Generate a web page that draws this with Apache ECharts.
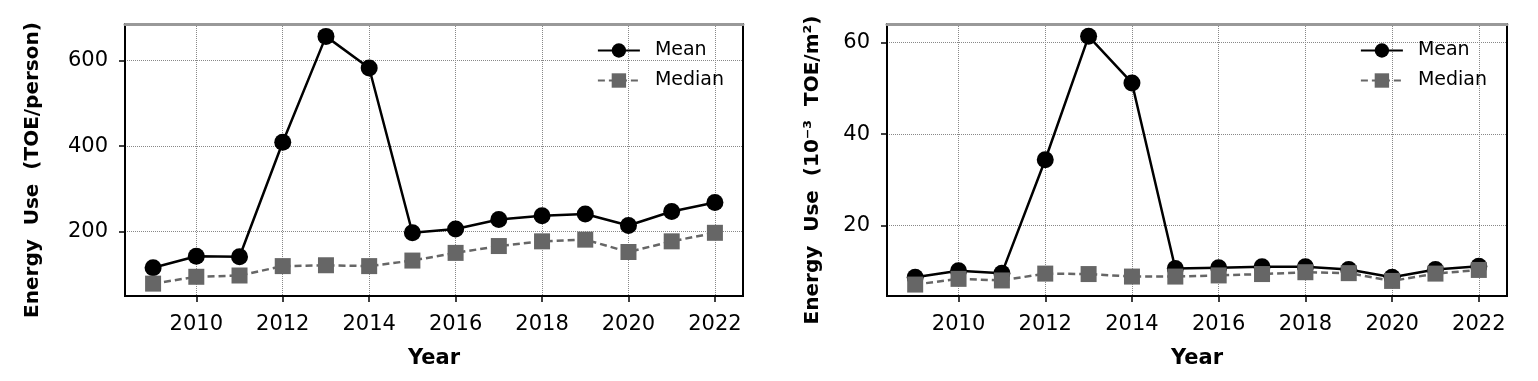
<!DOCTYPE html>
<html>
<head>
<meta charset="utf-8">
<script src="https://cdn.jsdelivr.net/npm/echarts@6/dist/echarts.min.js"></script>
<style>html,body{margin:0;padding:0;background:#fff;}#c{width:1538px;height:381px;}</style>
</head>
<body>
<div id="c"></div>
<script>
const years = [2009,2010,2011,2012,2013,2014,2015,2016,2017,2018,2019,2020,2021,2022];
const meanPerson   = [115,142,141,409,657,583,197,206,228,237,241,214,247,268];
const medianPerson = [78,94,97,119,121,119,132,150,166,177,181,152,177,197];
const meanArea     = [8.7,10.1,9.6,34.4,61.4,51.2,10.6,10.8,11.0,11.0,10.4,8.7,10.4,11.1];
const medianArea   = [7.1,8.35,8.0,9.5,9.4,8.85,8.85,9.1,9.4,9.8,9.6,7.9,9.5,10.3];
const xTicks = [2010,2012,2014,2016,2018,2020,2022];
const yTicksPerson = [200,400,600];
const yTicksArea = [20,40,60];

const FONT = 'DejaVu Sans';
const pairs = (vals) => years.map((y, i) => [y, vals[i]]);

const grids = [
  {left:125, right:795, top:24, bottom:85, show:true, borderColor:'#000', borderWidth:2},
  {left:887, right:31, top:24, bottom:85, show:true, borderColor:'#000', borderWidth:2}
];

function xAxisFor(gi) {
  return {
    type:'value', gridIndex:gi, min:2008.35, max:2022.65,
    name:'Year', nameLocation:'middle', nameGap:52,
    nameTextStyle:{fontFamily:FONT, fontWeight:'bold', fontSize:21, color:'#000'},
    axisLine:{show:true, lineStyle:{color:'#000', width:2}},
    axisTick:{show:true, customValues:xTicks, length:6, lineStyle:{color:'#000', width:1.5}},
    axisLabel:{customValues:xTicks, margin:18, fontFamily:FONT, fontSize:21, color:'#000',
      formatter:(v) => String(v)},
    splitLine:{show:true, lineStyle:{color:'#888', type:'dotted', width:1}}
  };
}
function topAxisFor(gi) {
  return {
    type:'value', gridIndex:gi, position:'top', min:2008.35, max:2022.65,
    axisLine:{show:true, lineStyle:{color:'#999', width:3}},
    axisTick:{show:false}, axisLabel:{show:false}, splitLine:{show:false}
  };
}
function yAxisFor(gi, min, max, ticks, name, gap) {
  return {
    type:'value', gridIndex:gi, min:min, max:max,
    name:name, nameLocation:'middle', nameGap:gap,
    nameTextStyle:{fontFamily:FONT, fontWeight:'bold', fontSize:20, color:'#000', padding:[0,0,0,-20]},
    axisLine:{show:true, lineStyle:{color:'#000', width:2}},
    axisTick:{show:true, customValues:ticks, length:6, lineStyle:{color:'#000', width:1.5}},
    axisLabel:{customValues:ticks, margin:17, fontFamily:FONT, fontSize:21, color:'#000'},
    splitLine:{show:true, lineStyle:{color:'#888', type:'dotted', width:1}}
  };
}
function meanSeries(xi, yi, vals) {
  return {
    name:'Mean', type:'line', xAxisIndex:xi, yAxisIndex:yi, data:pairs(vals),
    symbol:'circle', symbolSize:17, itemStyle:{color:'#000'},
    lineStyle:{color:'#000', width:2.5}, z:3, animation:false
  };
}
function medianSeries(xi, yi, vals) {
  return {
    name:'Median', type:'line', xAxisIndex:xi, yAxisIndex:yi, data:pairs(vals),
    symbol:'rect', symbolSize:16, itemStyle:{color:'#666'},
    lineStyle:{color:'#666', width:2.5, type:[7,4]}, z:4, animation:false
  };
}
function legendFor(right) {
  return {
    orient:'vertical', right:right, top:36, itemWidth:42, itemHeight:18, itemGap:11,
    data:['Mean','Median'],
    textStyle:{fontFamily:FONT, fontSize:19, color:'#000', padding:[0,0,0,10]}
  };
}

const chart = echarts.init(document.getElementById('c'), null, {renderer:'canvas'});
chart.setOption({
  backgroundColor:'#fff',
  animation:false,
  grid:grids,
  legend:[legendFor(809), legendFor(46)],
  xAxis:[xAxisFor(0), xAxisFor(1), topAxisFor(0), topAxisFor(1)],
  yAxis:[
    yAxisFor(0, 49, 686, yTicksPerson, 'Energy  Use  (TOE/person)', 82),
    yAxisFor(1, 4.6, 64.1, yTicksArea, 'Energy  Use  (10⁻³  TOE/m²)', 64)
  ],
  series:[
    meanSeries(0, 0, meanPerson), medianSeries(0, 0, medianPerson),
    meanSeries(1, 1, meanArea), medianSeries(1, 1, medianArea)
  ]
});
</script>
</body>
</html>
